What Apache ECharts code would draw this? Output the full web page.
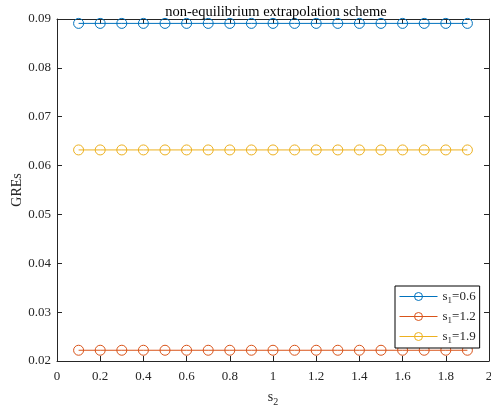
<!DOCTYPE html>
<html>
<head>
<meta charset="utf-8">
<script src="https://cdn.jsdelivr.net/npm/echarts@6/dist/echarts.min.js"></script>
<style>
  html, body { margin: 0; padding: 0; background: #fff; }
  #chart { width: 491px; height: 409px; }
</style>
</head>
<body>
<div id="chart"></div>
<script>
// s2 sample positions
const s2Values = [0.1, 0.2, 0.3, 0.4, 0.5, 0.6, 0.7, 0.8, 0.9, 1.0, 1.1, 1.2, 1.3, 1.4, 1.5, 1.6, 1.7, 1.8, 1.9];
// GREs for each s1
const greS1_06 = [0.0891, 0.0891, 0.0891, 0.0891, 0.0891, 0.0891, 0.0891, 0.0891, 0.0891, 0.0891, 0.0891, 0.0891, 0.0891, 0.0891, 0.0891, 0.0891, 0.0891, 0.0891, 0.0891];
const greS1_12 = [0.0222, 0.0222, 0.0222, 0.0222, 0.0222, 0.0222, 0.0222, 0.0222, 0.0222, 0.0222, 0.0222, 0.0222, 0.0222, 0.0222, 0.0222, 0.0222, 0.0222, 0.0222, 0.0222];
const greS1_19 = [0.0632, 0.0632, 0.0632, 0.0632, 0.0632, 0.0632, 0.0632, 0.0632, 0.0632, 0.0632, 0.0632, 0.0632, 0.0632, 0.0632, 0.0632, 0.0632, 0.0632, 0.0632, 0.0632];
const seriesNames = ['s1=0.6', 's1=1.2', 's1=1.9'];
const legendLabels = { 's1=0.6': '0.6', 's1=1.2': '1.2', 's1=1.9': '1.9' };
const xTickLabels = ['0', '0.2', '0.4', '0.6', '0.8', '1', '1.2', '1.4', '1.6', '1.8', '2'];
const yTickLabels = ['0.02', '0.03', '0.04', '0.05', '0.06', '0.07', '0.08', '0.09'];

const FONT = '"Liberation Serif", "Times New Roman", serif';
const INK = '#262626';
const colors = ['#0072BD', '#D95319', '#EDB120'];

function pair(xs, ys) { return xs.map((x, i) => [x, ys[i]]); }

const chart = echarts.init(document.getElementById('chart'), null, { renderer: 'canvas' });

const tickFmt = (list) => (v) => {
  const s = list.find(t => Math.abs(parseFloat(t) - v) < 1e-9);
  return s !== undefined ? s : '';
};

function axisBase() {
  return {
    axisLine: { show: true, onZero: false, lineStyle: { color: INK, width: 1 } },
    axisTick: { show: true, inside: true, length: 5, lineStyle: { color: INK } },
    splitLine: { show: false },
    axisLabel: { color: INK, fontFamily: FONT, fontSize: 13 }
  };
}

function mkSeries(name, data, color) {
  return {
    name, type: 'line', data,
    xAxisIndex: 0, yAxisIndex: 0,
    symbol: 'circle', symbolSize: 10,
    showAllSymbol: true,
    lineStyle: { color, width: 1 },
    itemStyle: { color: 'rgba(0,0,0,0)', borderColor: color, borderWidth: 1 },
    emphasis: { disabled: true },
    animation: false
  };
}

chart.setOption({
  animation: false,
  backgroundColor: '#fff',
  title: {
    text: 'non-equilibrium extrapolation scheme',
    left: 271, textAlign: 'center', top: 0,
    textStyle: { fontFamily: FONT, fontSize: 14.5, fontWeight: 'normal', color: '#000' }
  },
  grid: { left: 57, right: 2, top: 19, bottom: 48, containLabel: false, outerBoundsMode: 'none' },
  legend: {
    orient: 'vertical',
    left: 395, top: 286,
    padding: [4, 4, 3, 4],
    itemGap: 5,
    itemWidth: 38, itemHeight: 10,
    backgroundColor: '#fff',
    borderColor: '#000', borderWidth: 1,
    data: seriesNames.map((n, i) => ({
      name: n,
      itemStyle: { color: 'rgba(0,0,0,0)', borderColor: colors[i], borderWidth: 1 },
      lineStyle: { color: colors[i], width: 1 }
    })),
    formatter: (n) => '{s|s}{sub|1}{s|=' + legendLabels[n] + '}',
    textStyle: {
      fontFamily: FONT, fontSize: 13, color: INK,
      rich: {
        s: { fontFamily: FONT, fontSize: 13, color: INK, verticalAlign: 'middle' },
        sub: { fontFamily: FONT, fontSize: 9, color: INK, padding: [8, 0, 0, 0], verticalAlign: 'middle' }
      }
    }
  },
  xAxis: [
    Object.assign(axisBase(), {
      type: 'value', min: 0, max: 2, interval: 0.2, position: 'bottom',
      name: '{s|s}{sub|2}', nameLocation: 'middle', nameGap: 27, nameMoveOverlap: false,
      nameTextStyle: {
        rich: {
          s: { fontFamily: FONT, fontSize: 14, color: INK },
          sub: { fontFamily: FONT, fontSize: 10, color: INK, padding: [9, 0, 0, 0] }
        }
      },
      axisLabel: { color: INK, fontFamily: FONT, fontSize: 13, margin: 9, formatter: tickFmt(xTickLabels) }
    }),
    Object.assign(axisBase(), {
      type: 'value', min: 0, max: 2, interval: 0.2, position: 'top',
      axisLabel: { show: false }
    })
  ],
  yAxis: [
    Object.assign(axisBase(), {
      type: 'value', min: 0.02, max: 0.09, interval: 0.01, position: 'left',
      name: 'GREs', nameLocation: 'middle', nameGap: 33, nameRotate: 90, nameMoveOverlap: false,
      nameTextStyle: { fontFamily: FONT, fontSize: 14, color: INK },
      axisLabel: { color: INK, fontFamily: FONT, fontSize: 13, margin: 6, formatter: tickFmt(yTickLabels) }
    }),
    Object.assign(axisBase(), {
      type: 'value', min: 0.02, max: 0.09, interval: 0.01, position: 'right',
      axisLabel: { show: false }
    })
  ],
  series: [
    mkSeries(seriesNames[0], pair(s2Values, greS1_06), colors[0]),
    mkSeries(seriesNames[1], pair(s2Values, greS1_12), colors[1]),
    mkSeries(seriesNames[2], pair(s2Values, greS1_19), colors[2])
  ]
});
</script>
</body>
</html>
